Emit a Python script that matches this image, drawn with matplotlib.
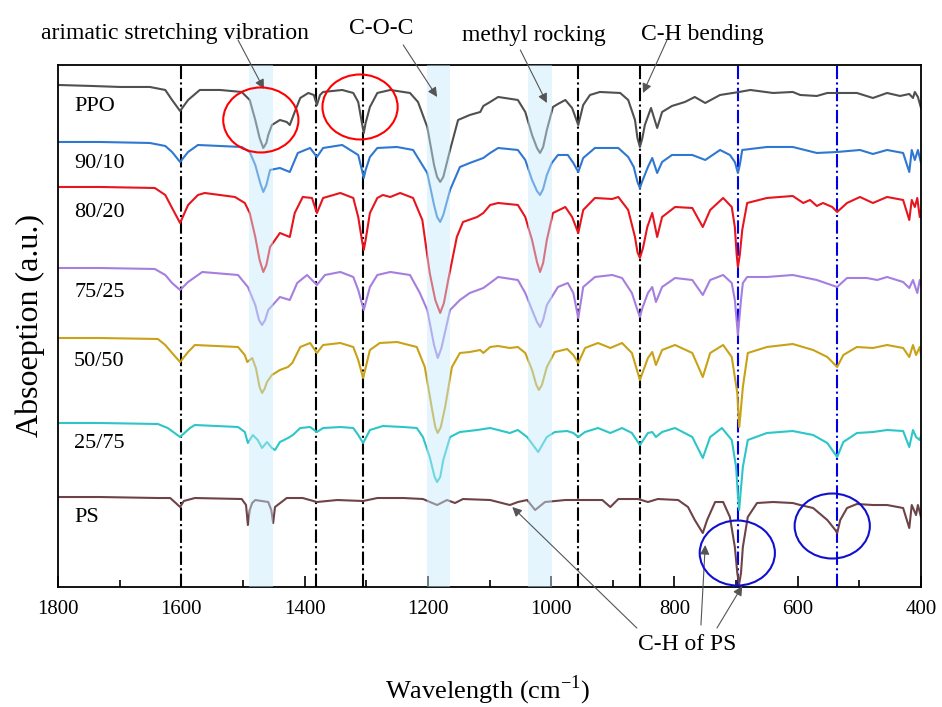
import matplotlib
matplotlib.use("Agg")
import matplotlib.pyplot as plt
from matplotlib.patches import Ellipse

plt.rcParams['font.family'] = ['Liberation Serif', 'DejaVu Serif']
plt.rcParams['mathtext.fontset'] = 'custom'
plt.rcParams['mathtext.rm'] = 'Liberation Serif'

# spectra: wavenumber (cm-1) and absorbance (a.u., stacked)
ppo_wn = [1800, 1745, 1699, 1651, 1626, 1615, 1602, 1589, 1570, 1537, 1502, 1489, 1480, 1473,
          1467, 1462, 1459, 1453, 1440, 1429, 1424, 1416, 1407, 1394, 1385, 1380, 1375, 1370,
          1339, 1321, 1313, 1307, 1304, 1301, 1294, 1282, 1261, 1229, 1216, 1201, 1190, 1185,
          1180, 1175, 1164, 1151, 1132, 1115, 1110, 1099, 1086, 1054, 1042, 1031, 1023, 1018,
          1013, 1007, 997, 989, 977, 966, 956, 948, 937, 921, 888, 875, 864, 860, 856, 852,
          848, 838, 828, 820, 804, 783, 767, 750, 726, 695, 677, 640, 608, 596, 569, 552, 504,
          478, 455, 434, 419, 413, 410, 405, 400]
ppo_ab = [500, 499, 498, 498, 495, 485, 474, 485, 495, 495, 493, 485, 465, 447,
          437, 442, 450, 460, 465, 463, 460, 473, 487, 492, 490, 480, 490, 493,
          495, 492, 483, 462, 452, 462, 478, 492, 495, 492, 483, 458, 420, 408,
          403, 408, 435, 465, 470, 473, 479, 483, 488, 485, 473, 450, 437, 432,
          438, 455, 478, 481, 485, 477, 460, 480, 490, 493, 492, 485, 465, 447, 438, 447,
          460, 477, 457, 473, 479, 483, 488, 482, 490, 493, 495, 492, 493, 490, 489, 492, 492,
          487, 492, 489, 491, 487, 493, 488, 477]

b9010_wn = [1800, 1732, 1651, 1626, 1615, 1602, 1589, 1573, 1502, 1489, 1480, 1472, 1467, 1462,
            1456, 1440, 1424, 1411, 1391, 1380, 1370, 1339, 1313, 1307, 1304, 1301, 1294, 1282,
            1250, 1224, 1201, 1190, 1185, 1180, 1175, 1164, 1148, 1132, 1110, 1099, 1086, 1054,
            1042, 1031, 1023, 1018, 1013, 1007, 999, 989, 973, 964, 956, 948, 929, 891, 875, 866,
            860, 856, 852, 843, 836, 828, 820, 804, 771, 750, 726, 710, 702, 697, 694, 690, 650,
            608, 569, 536, 499, 478, 455, 429, 419, 415, 410, 405, 400]
b9010_ab = [443, 443, 442, 439, 433, 423, 433, 440, 438, 433, 420, 402, 393, 400,
            415, 417, 413, 432, 437, 428, 437, 440, 430, 415, 407, 415, 428, 437,
            438, 435, 412, 380, 368, 363, 370, 395, 418, 422, 427, 432, 437, 435,
            425, 405, 394, 390, 396, 410, 422, 430, 430, 422, 413, 427, 437, 437, 428, 418,
            403, 397, 404, 418, 427, 412, 423, 430, 430, 425, 435, 430, 423, 412, 420, 435, 438,
            438, 432, 433, 435, 431, 435, 432, 413, 435, 425, 435, 422]

b8020_wn = [1800, 1732, 1643, 1626, 1615, 1602, 1589, 1573, 1562, 1513, 1497, 1489, 1480, 1473,
            1467, 1462, 1456, 1440, 1424, 1416, 1403, 1388, 1380, 1370, 1342, 1321, 1313, 1307,
            1304, 1301, 1294, 1282, 1273, 1261, 1245, 1224, 1209, 1197, 1188, 1180, 1174, 1167,
            1153, 1143, 1120, 1110, 1099, 1086, 1054, 1042, 1031, 1023, 1018, 1013, 1007, 997,
            977, 966, 956, 948, 929, 901, 891, 875, 864, 860, 856, 851, 844, 836, 828, 820, 799,
            771, 754, 742, 721, 707, 702, 699, 697, 694, 690, 682, 650, 608, 591, 580, 569, 559,
            544, 536, 520, 499, 478, 455, 429, 419, 415, 410, 406, 402, 400]
b8020_ab = [398, 398, 397, 390, 377, 362, 380, 390, 392, 388, 382, 372, 348, 325,
            313, 320, 338, 352, 348, 372, 388, 387, 372, 387, 392, 387, 368, 345,
            335, 345, 372, 387, 390, 388, 392, 387, 365, 312, 285, 272, 282, 305,
            348, 363, 368, 372, 380, 382, 380, 368, 345, 323, 313, 322, 345, 372,
            378, 368, 352, 375, 387, 386, 388, 375, 348, 333, 327, 337, 358, 372, 348, 368, 378,
            377, 358, 375, 387, 378, 358, 330, 318, 330, 355, 382, 387, 389, 382, 385, 379, 382,
            378, 373, 382, 388, 382, 388, 385, 365, 385, 378, 387, 368, 375]

b7525_wn = [1800, 1732, 1643, 1626, 1615, 1602, 1589, 1566, 1508, 1492, 1480, 1474, 1469, 1464,
            1459, 1440, 1424, 1412, 1396, 1380, 1367, 1342, 1321, 1313, 1304, 1294, 1282, 1261,
            1229, 1213, 1201, 1190, 1184, 1178, 1164, 1148, 1132, 1110, 1099, 1086, 1054, 1042,
            1031, 1023, 1018, 1013, 1007, 999, 989, 973, 964, 956, 948, 929, 901, 885, 869, 860,
            856, 852, 843, 836, 830, 820, 799, 771, 754, 742, 721, 707, 702, 697, 692, 689, 682,
            650, 608, 569, 536, 520, 488, 471, 455, 429, 419, 413, 406, 402, 400]
b7525_ab = [317, 317, 316, 310, 302, 295, 303, 313, 310, 298, 280, 265, 260, 265,
            275, 288, 285, 302, 310, 300, 310, 313, 308, 295, 275, 298, 310, 313,
            310, 292, 275, 240, 227, 237, 275, 285, 292, 297, 302, 308, 305, 292,
            275, 263, 258, 265, 280, 288, 298, 302, 292, 267, 298, 308, 310, 307, 292, 275,
            268, 277, 292, 298, 283, 298, 307, 305, 290, 305, 310, 302, 285, 250, 285, 302, 308,
            308, 310, 305, 298, 307, 307, 305, 308, 303, 297, 305, 292, 305, 300]

b5050_wn = [1800, 1732, 1638, 1626, 1615, 1602, 1589, 1578, 1508, 1497, 1493, 1485, 1479, 1473,
            1469, 1465, 1461, 1453, 1440, 1427, 1420, 1407, 1391, 1380, 1370, 1342, 1321, 1313,
            1305, 1294, 1278, 1250, 1218, 1205, 1193, 1188, 1184, 1179, 1172, 1161, 1148, 1132,
            1115, 1110, 1099, 1086, 1067, 1054, 1042, 1031, 1024, 1020, 1015, 1007, 994, 974,
            964, 956, 945, 924, 904, 885, 869, 856, 843, 836, 830, 820, 799, 771, 754, 742, 721,
            707, 698, 695, 693, 689, 681, 650, 608, 575, 552, 536, 526, 504, 478, 455, 429, 419,
            413, 408, 402, 400]
b5050_ab = [247, 247, 246, 240, 232, 223, 233, 240, 238, 230, 223, 227, 217, 198,
            192, 196, 203, 210, 215, 218, 222, 238, 242, 232, 240, 242, 238, 225,
            207, 235, 242, 243, 238, 218, 175, 158, 152, 158, 178, 218, 232, 233,
            235, 232, 238, 239, 237, 238, 232, 215, 200, 195, 200, 218, 233, 236,
            230, 222, 237, 242, 237, 242, 232, 205, 227, 233, 220, 235, 240, 232, 208, 232, 240,
            228, 192, 158, 170, 198, 232, 238, 241, 235, 228, 218, 230, 238, 237, 240, 237, 228,
            240, 230, 238, 230]

b2575_wn = [1800, 1732, 1638, 1622, 1602, 1586, 1578, 1508, 1497, 1492, 1484, 1476, 1469, 1461,
            1453, 1448, 1440, 1427, 1419, 1407, 1391, 1380, 1370, 1342, 1321, 1313, 1305, 1294,
            1273, 1240, 1218, 1208, 1197, 1189, 1185, 1180, 1175, 1164, 1148, 1120, 1099, 1086,
            1067, 1054, 1039, 1021, 1007, 994, 974, 964, 956, 945, 924, 904, 885, 869, 856, 843,
            836, 830, 820, 799, 771, 754, 742, 723, 707, 700, 697, 695, 693, 689, 681, 650, 608,
            575, 552, 536, 526, 504, 478, 455, 429, 419, 413, 408, 402, 400]
b2575_ab = [162, 162, 161, 157, 148, 157, 160, 158, 153, 142, 150, 145, 137, 143,
            137, 135, 143, 147, 150, 157, 158, 153, 157, 158, 157, 150, 142, 155,
            159, 158, 157, 148, 128, 108, 103, 108, 125, 148, 153, 155, 157, 155,
            152, 155, 148, 133, 148, 153, 154, 152, 148, 153, 157, 152, 157, 152, 140, 152,
            153, 148, 153, 157, 148, 127, 148, 157, 145, 118, 90, 75, 90, 118, 145, 152, 154,
            150, 142, 128, 143, 152, 153, 155, 154, 138, 155, 148, 145, 149]

ps_wn = [1800, 1732, 1638, 1618, 1609, 1602, 1596, 1578, 1502, 1495, 1492, 1489, 1485, 1480,
         1459, 1454, 1451, 1448, 1429, 1403, 1380, 1347, 1305, 1282, 1240, 1208, 1185, 1169,
         1156, 1143, 1099, 1067, 1054, 1039, 1026, 1010, 977, 917, 904, 891, 859, 843, 827,
         794, 778, 767, 754, 747, 734, 721, 710, 702, 698, 695, 692, 689, 681, 666, 640, 608,
         596, 575, 552, 539, 536, 531, 520, 504, 478, 455, 429, 419, 415, 408, 405, 400]
ps_ab = [88, 88, 87, 87, 82, 78, 84, 87, 86, 80, 60, 75, 82, 85,
         83, 75, 62, 78, 87, 87, 83, 85, 84, 87, 87, 86, 80, 85,
         82, 86, 85, 80, 83, 85, 75, 83, 85, 85, 78, 86, 86, 83, 86,
         85, 78, 65, 52, 65, 83, 83, 68, 38, 12, 1, 12, 38, 68, 82, 83, 82,
         80, 77, 65, 55, 52, 65, 77, 81, 80, 80, 77, 57, 80, 70, 80, 68]

names = ["PPO", "90/10", "80/20", "75/25", "50/50", "25/75", "PS"]
wn_data = [ppo_wn, b9010_wn, b8020_wn, b7525_wn, b5050_wn, b2575_wn, ps_wn]
ab_data = [ppo_ab, b9010_ab, b8020_ab, b7525_ab, b5050_ab, b2575_ab, ps_ab]
colors = ["#505050", "#2f78d2", "#e8141e", "#a57ee0", "#c9a217", "#2cc6c8", "#6e4347"]
label_y = [478, 421, 372, 292, 224, 142, 68]

black_lines = [1601, 1381, 1305, 957, 856]
blue_lines = [697, 537]
bands = [(1490, 1451), (1201, 1164), (1038, 999)]

fig = plt.figure(figsize=(9.42, 7.07), dpi=100)
ax = fig.add_axes([0.0616, 0.1697, 0.9161, 0.7384])

for name, wn, ab, col, ly in zip(names, wn_data, ab_data, colors, label_y):
    ax.plot(wn, ab, color=col, lw=1.5, zorder=2, solid_joinstyle='round')
    ax.text(1774, ly, name, fontsize=16, va='center', ha='left')

for x in black_lines:
    ax.axvline(x, color='black', ls='-.', lw=1.5, zorder=1)
for x in blue_lines:
    ax.axvline(x, color='#0000e6', ls='-.', lw=1.5, zorder=1)
for a, b in bands:
    ax.axvspan(b, a, color='#c4ebfb', alpha=0.45, lw=0, zorder=3)

# circles marking bands
for cx, cy, col in [(1471, 465, 'red'), (1310, 478, 'red'), (698, 32, '#1010d0'), (544, 59, '#1010d0')]:
    ax.add_patch(Ellipse((cx, cy), 122, 65, fill=False, ec=col, lw=1.5, zorder=4))

# annotations
arrow = dict(arrowstyle='-|>', color='#555555', lw=0.8, mutation_scale=14, shrinkA=0, shrinkB=0)
ax.text(1610, 551, "arimatic stretching vibration", fontsize=17, ha='center', va='center')
ax.text(1276, 556, "C-O-C", fontsize=17, ha='center', va='center')
ax.text(1028, 549, "methyl rocking", fontsize=17, ha='center', va='center')
ax.text(754, 550, "C-H bending", fontsize=17, ha='center', va='center')
ax.text(779, -59, "C-H of PS", fontsize=17, ha='center', va='center')
for start, end in [((1508, 545), (1466, 496)), ((1240, 540), (1185, 488)),
                   ((1050, 535), (1007, 482)), ((812, 545), (851, 492)),
                   ((861, -43), (1063, 78)), ((757, -40), (750, 40)), ((731, -43), (690, -1))]:
    ax.annotate("", xy=end, xytext=start, arrowprops=arrow, annotation_clip=False)

ax.set_xlim(1800, 400)
ax.set_ylim(-2, 520)
ax.set_xticks(range(1800, 399, -200))
ax.set_xticks(range(1700, 400, -200), minor=True)
ax.tick_params(axis='x', which='major', direction='in', length=8, width=1.2, labelsize=15, pad=9)
ax.tick_params(axis='x', which='minor', direction='in', length=5, width=1.2)
ax.set_yticks([])
for s in ax.spines.values():
    s.set_linewidth(1.3)

fig.text(30 / 942, 1 - 326 / 707, "Absoeption (a.u.)", rotation=90, fontsize=23, ha='center', va='center')
fig.text(488 / 942, 1 - 690 / 707, r"Wavelength (cm$^{-1}$)", fontsize=19, ha='center', va='center')

plt.savefig("out.png", dpi=100)
plt.close()
